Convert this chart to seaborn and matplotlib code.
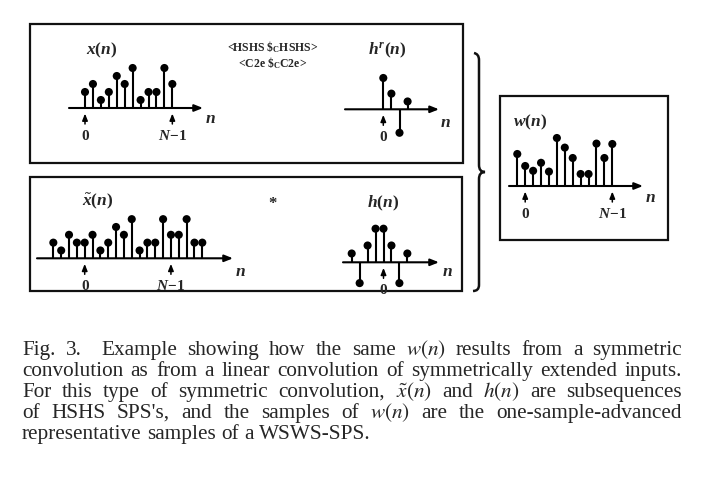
import numpy as np
import pandas as pd
import matplotlib
matplotlib.use("Agg")
import matplotlib.pyplot as plt
import seaborn as sns
from matplotlib.patches import Rectangle, PathPatch
from matplotlib.path import Path

# ---------------- data ----------------
x_n = list(range(0, 12))
x_vals = [2, 3, 1, 2, 4, 3, 5, 1, 2, 2, 5, 3]

xt_n = list(range(-4, 16))
xt_vals = [2, 1, 3, 2, 2, 3, 1, 2, 4, 3, 5, 1, 2, 2, 5, 3, 3, 5, 2, 2]

hr_n = list(range(0, 4))
hr_vals = [4, 2, -3, 1]

h_n = list(range(-4, 4))
h_vals = [1.1, -2.6, 2.1, 4.2, 4.2, 2.1, -2.6, 1.1]

w_n = list(range(-1, 12))
w_vals = [4.0, 2.5, 1.9, 2.9, 1.8, 6.0, 4.8, 3.5, 1.5, 1.5, 5.3, 3.5, 5.25]

caption_lines = [
    "Fig. 3.  Example showing how the same $w(n)$ results from a symmetric",
    "convolution as from a linear convolution of symmetrically extended inputs.",
    r"For this type of symmetric convolution, $\tilde{x}(n)$ and $h(n)$ are subsequences",
    "of HSHS SPS's, and the samples of $w(n)$ are the one-sample-advanced",
    "representative samples of a WSWS-SPS.",
]

# ---------------- style ----------------
sns.set_style("white")
plt.rcParams["font.family"] = ["Liberation Serif", "DejaVu Serif"]
plt.rcParams["mathtext.fontset"] = "custom"
plt.rcParams["mathtext.it"] = "Liberation Serif:italic:bold"
plt.rcParams["mathtext.rm"] = "Liberation Serif:bold"
plt.rcParams["mathtext.bf"] = "Liberation Serif:bold"

W, H = 702, 482
fig = plt.figure(figsize=(W / 100, H / 100), dpi=100)
fig.patch.set_facecolor("white")

# background axes in pixel coordinates (layout only)
bg = fig.add_axes([0, 0, 1, 1])
bg.set_xlim(0, W)
bg.set_ylim(H, 0)
bg.set_axis_off()

LW_BOX = 1.6
for (x0, y0, x1, y1) in [(30, 24, 463, 163), (30, 177, 462, 291), (500, 96, 668, 240)]:
    bg.add_patch(Rectangle((x0, y0), x1 - x0, y1 - y0, fill=False, lw=LW_BOX, ec="#111111"))

# curly brace
verts = [(474, 53), (479, 54), (479, 60), (479, 165), (479, 172), (485, 172),
         (479, 172), (479, 179), (479, 285), (479, 291), (473, 291)]
codes = [Path.MOVETO, Path.CURVE3, Path.CURVE3, Path.LINETO, Path.CURVE3, Path.CURVE3,
         Path.CURVE3, Path.CURVE3, Path.LINETO, Path.CURVE3, Path.CURVE3]
bg.add_patch(PathPatch(Path(verts, codes), fill=False, lw=1.8, ec="#111111"))

LBL = dict(fontsize=12.5, ha="center", va="center", math_fontfamily="custom")


def panel(ox, oy, dx, dy, ax_x0, ax_x1, n, v, marks, n_pos):
    ax = fig.add_axes([0, 0, 1, 1])
    ax.set_axis_off()
    ax.patch.set_alpha(0)
    ax.set_xlim((0 - ox) / dx, (W - ox) / dx)
    ax.set_ylim((oy - H) / dy, oy / dy)
    ax.annotate("", xy=((ax_x1 - ox) / dx, 0), xytext=((ax_x0 - ox) / dx, 0),
                arrowprops=dict(arrowstyle="-|>,head_length=0.5,head_width=0.2",
                                lw=1.5, color="k", shrinkA=0, shrinkB=0))
    ax.vlines(n, 0, v, color="k", lw=1.5)
    df = pd.DataFrame({"n": n, "v": v})
    sns.scatterplot(data=df, x="n", y="v", ax=ax, s=34, color="k",
                    edgecolor="none", legend=False, zorder=3)
    for m, txt in marks:
        ax.annotate("", xy=(m, 0), xytext=(0, -16), textcoords="offset pixels",
                    arrowprops=dict(arrowstyle="-|>,head_length=0.4,head_width=0.16",
                                    lw=1.1, color="k", shrinkA=0, shrinkB=4.0))
        ax.annotate(txt, xy=(m, 0), xytext=(0, -28), textcoords="offset pixels",
                    fontsize=11, fontweight="bold", ha="center", va="center",
                    math_fontfamily="custom")
    bg.text(n_pos[0], n_pos[1], "$n$", **LBL)
    return ax


NM1 = r"$N\!-\!1$"
panel(85.0, 108, 7.94, 8.0, 69, 203, x_n, x_vals, [(0, "0"), (11, NM1)], (210, 119))
panel(84.7, 258.3, 7.84, 7.83, 37, 233, xt_n, xt_vals, [(0, "0"), (11, NM1)], (240, 272))
panel(383.3, 109.3, 8.1, 7.83, 345, 439, hr_n, hr_vals, [(0, "0")], (445, 123))
panel(383.5, 262.3, 7.95, 8.0, 343, 439, h_n, h_vals, [(0, "0")], (447, 272))
panel(525.2, 186, 7.92, 8.0, 509, 643, w_n, w_vals, [(0, "0"), (11, NM1)], (650, 198))

# panel titles
bg.text(102, 50, "$x(n)$", **LBL)
bg.text(98, 201, r"$\tilde{x}(n)$", **LBL)
bg.text(387, 50, "$h^r(n)$", **LBL)
bg.text(383, 203, "$h(n)$", **LBL)
bg.text(530, 122, "$w(n)$", **LBL)
bg.text(273, 202, "$*$", fontsize=12, ha="center", va="center", math_fontfamily="custom")
bg.text(273, 47, r"<HSHS $\mathbf{\$}_{\mathbf{C}}$HSHS>", fontsize=8.5, fontweight="bold",
        ha="center", va="center", math_fontfamily="custom")
bg.text(273, 63, r"<C2e $\mathbf{\$}_{\mathbf{C}}$C2e>", fontsize=8.5, fontweight="bold",
        ha="center", va="center", math_fontfamily="custom")

# caption with justified lines
FS = 15.3
renderer = fig.canvas.get_renderer()
x_left, x_right = 22, 682
for i, line in enumerate(caption_lines):
    y = 355 + 20.9 * i
    words = line.split(" ")
    texts = [bg.text(0, y, wd, fontsize=FS, va="baseline", ha="left",
                     math_fontfamily="stix") for wd in words]
    widths = [t.get_window_extent(renderer).width for t in texts]
    if i < len(caption_lines) - 1:
        gap = (x_right - x_left - sum(widths)) / (len(words) - 1)
    else:
        gap = FS * 100 / 72 * 0.25
    x = x_left
    for t, wd in zip(texts, widths):
        t.set_x(x)
        x += wd + gap

fig.savefig("out.png", dpi=100, facecolor="white")
